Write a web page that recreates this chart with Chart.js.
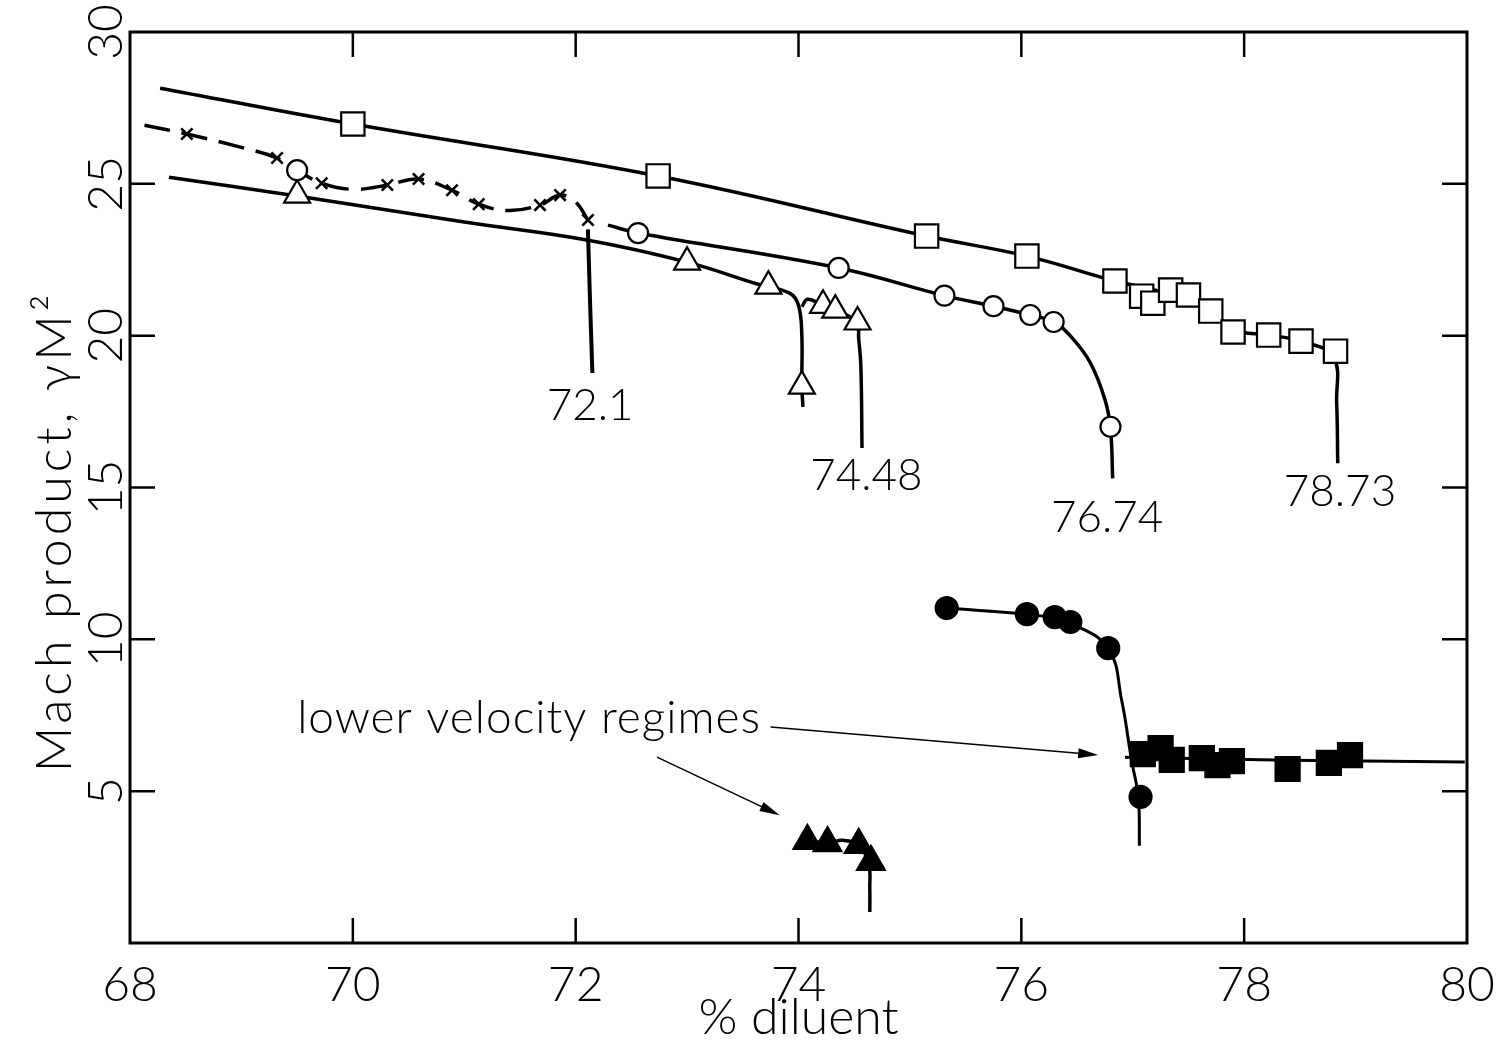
<!DOCTYPE html>
<html>
<head>
<meta charset="utf-8">
<script src="https://cdn.jsdelivr.net/npm/chart.js@4.4.1/dist/chart.umd.min.js"></script>
<style>
  html, body { margin: 0; padding: 0; background: #fff; }
  #wrap { width: 1510px; height: 1043px; }
</style>
</head>
<body>
<div id="wrap"><canvas id="machChart"></canvas></div>
<script>
// axis ticks
const xTicks = [68, 70, 72, 74, 76, 78, 80];
const yTicks = [0, 5, 10, 15, 20, 25, 30];

// 78.73 series (open squares)
const sqX = [70.00, 72.74, 75.15, 76.05, 76.84, 77.08, 77.18, 77.34, 77.50, 77.70, 77.90, 78.22, 78.51, 78.82];
const sqY = [26.97, 25.26, 23.28, 22.62, 21.80, 21.30, 21.07, 21.50, 21.34, 20.81, 20.12, 20.02, 19.82, 19.49];
const sqLineX = [68.27, 70.00, 72.74, 75.15, 76.05, 76.84, 77.30, 77.70, 77.90, 78.22, 78.51, 78.80, 78.83, 78.84];
const sqLineY = [28.15, 26.97, 25.26, 23.28, 22.62, 21.80, 21.40, 20.85, 20.20, 20.02, 19.82, 19.30, 17.80, 15.80];

// 76.74 series (open circles)
const circX = [69.50, 72.56, 74.36, 75.31, 75.75, 76.08, 76.29, 76.80];
const circY = [25.45, 23.38, 22.23, 21.32, 20.97, 20.68, 20.45, 17.00];
const circLineX = [72.29, 72.56, 74.36, 75.31, 75.75, 76.08, 76.29, 76.45, 76.62, 76.75, 76.80, 76.82];
const circLineY = [23.64, 23.38, 22.23, 21.32, 20.97, 20.68, 20.45, 19.95, 19.10, 17.90, 16.95, 15.30];

// 74.48 series (open triangles)
const triX = [69.50, 73.00, 73.73, 74.03, 74.22, 74.33, 74.53];
const triY = [24.63, 22.42, 21.63, 18.34, 21.00, 20.84, 20.45];
const triLineAX = [68.35, 69.50, 71.00, 72.10, 73.00, 73.63, 73.92, 74.00, 74.03, 74.03, 74.04];
const triLineAY = [25.22, 24.60, 23.74, 23.15, 22.42, 21.70, 21.40, 21.00, 20.00, 18.34, 17.65];
const triLineBX = [74.03, 74.08, 74.22, 74.33, 74.52, 74.54, 74.56, 74.57];
const triLineBY = [20.95, 21.20, 21.00, 20.84, 20.45, 19.90, 18.97, 16.30];

// 72.1 series (crosses, dashed)
const crossX = [68.51, 69.32, 69.72, 70.31, 70.59, 70.89, 71.13, 71.68, 71.86, 72.11];
const crossY = [26.64, 25.85, 25.02, 24.96, 25.16, 24.79, 24.33, 24.30, 24.63, 23.81];
const crossLineX = [68.13, 68.51, 69.00, 69.32, 69.50, 69.72, 70.00, 70.31, 70.59, 70.89, 71.13, 71.40, 71.68, 71.86, 72.00, 72.11];
const crossLineY = [26.93, 26.64, 26.20, 25.85, 25.45, 25.02, 24.82, 24.96, 25.16, 24.79, 24.33, 24.12, 24.30, 24.63, 24.40, 23.81];
const dropX = [72.11, 72.13, 72.15];
const dropY = [23.50, 21.00, 18.77];

// lower velocity regimes
const fcX = [75.33, 76.05, 76.30, 76.44, 76.78, 77.07];
const fcY = [11.03, 10.83, 10.73, 10.57, 9.71, 4.81];
const fcLineX = [75.33, 76.05, 76.30, 76.44, 76.78, 76.90, 76.99, 77.05, 77.06];
const fcLineY = [11.03, 10.83, 10.70, 10.55, 9.71, 8.00, 6.00, 4.80, 3.20];

const fsX = [77.09, 77.25, 77.35, 77.62, 77.76, 77.89, 78.39, 78.76, 78.95];
const fsY = [6.22, 6.42, 6.03, 6.09, 5.86, 5.99, 5.73, 5.93, 6.19];
const fsLineX = [76.93, 78.40, 79.98];
const fsLineY = [6.12, 6.02, 5.96];

const ftX = [74.08, 74.26, 74.54, 74.65];
const ftY = [3.36, 3.29, 3.23, 2.67];
const ftLineX = [74.08, 74.26, 74.40, 74.54, 74.63, 74.64, 74.64];
const ftLineY = [3.36, 3.30, 3.38, 3.23, 2.60, 1.80, 1.02];

// text and arrows, in data units
const notes = [
  { text: '72.1', x: 72.13, y: 17.7 },
  { text: '74.48', x: 74.61, y: 15.4 },
  { text: '76.74', x: 76.77, y: 14.0 },
  { text: '78.73', x: 78.86, y: 14.85 },
];
const regimeText = { text: 'lower velocity regimes', x: 69.5, y: 7.4 };
const arrows = [
  { from: [72.73, 6.12], to: [73.83, 4.21] },
  { from: [73.75, 7.11], to: [76.69, 6.19] },
];
const yTitle = 'Mach product, \u03B3M\u00B2';

const FONT = 'Lato, "DejaVu Sans", sans-serif';
const TICK = 25;
const pts = (xs, ys) => xs.map((v, i) => ({ x: v, y: ys[i] }));

function markers(xs, ys, style, r, filled, bw) {
  return {
    data: pts(xs, ys), showLine: false, order: 0,
    pointStyle: style, pointRadius: r,
    pointBackgroundColor: filled ? '#000' : '#fff',
    pointBorderColor: '#000', pointBorderWidth: bw || 2.2
  };
}
function curve(xs, ys, width, extra) {
  return Object.assign({
    data: pts(xs, ys), showLine: true, order: 1,
    pointRadius: 0, borderColor: '#000', borderWidth: width,
    tension: 0.4, fill: false
  }, extra || {});
}

const framePlugin = {
  id: 'frame',
  afterDraw(chart) {
    const { ctx, chartArea: a, scales: { x, y } } = chart;
    ctx.save();
    ctx.strokeStyle = '#000';
    ctx.lineWidth = 3;
    ctx.strokeRect(a.left, a.top, a.right - a.left, a.bottom - a.top);
    ctx.lineWidth = 2.5;
    ctx.beginPath();
    xTicks.slice(1, -1).forEach(v => {
      const px = x.getPixelForValue(v);
      ctx.moveTo(px, a.bottom); ctx.lineTo(px, a.bottom - TICK);
      ctx.moveTo(px, a.top); ctx.lineTo(px, a.top + TICK);
    });
    yTicks.slice(1, -1).forEach(v => {
      const py = y.getPixelForValue(v);
      ctx.moveTo(a.left, py); ctx.lineTo(a.left + TICK, py);
      ctx.moveTo(a.right, py); ctx.lineTo(a.right - TICK, py);
    });
    ctx.stroke();

    // callout labels
    ctx.fillStyle = '#000';
    ctx.font = '300 44px ' + FONT;
    ctx.textAlign = 'center';
    ctx.textBaseline = 'middle';
    notes.forEach(n => ctx.fillText(n.text, x.getPixelForValue(n.x), y.getPixelForValue(n.y)));
    ctx.textAlign = 'left';
    ctx.font = '300 46px ' + FONT;
    ctx.letterSpacing = '1px';
    ctx.fillText(regimeText.text, x.getPixelForValue(regimeText.x), y.getPixelForValue(regimeText.y));

    // y axis title, rotated
    ctx.save();
    ctx.translate(55, (a.top + a.bottom) / 2 + 44);
    ctx.rotate(-Math.PI / 2);
    ctx.textAlign = 'center';
    ctx.font = '300 50px ' + FONT;
    ctx.letterSpacing = '4px';
    ctx.fillText(yTitle, 0, 0);
    ctx.restore();
    ctx.letterSpacing = '0px';

    // arrows
    ctx.lineWidth = 1.5;
    arrows.forEach(ar => {
      const x0 = x.getPixelForValue(ar.from[0]), y0 = y.getPixelForValue(ar.from[1]);
      const x1 = x.getPixelForValue(ar.to[0]), y1 = y.getPixelForValue(ar.to[1]);
      const ang = Math.atan2(y1 - y0, x1 - x0);
      ctx.beginPath();
      ctx.moveTo(x0, y0); ctx.lineTo(x1 - 14 * Math.cos(ang), y1 - 14 * Math.sin(ang));
      ctx.stroke();
      ctx.beginPath();
      ctx.moveTo(x1, y1);
      ctx.lineTo(x1 - 20 * Math.cos(ang) + 5 * Math.sin(ang), y1 - 20 * Math.sin(ang) - 5 * Math.cos(ang));
      ctx.lineTo(x1 - 20 * Math.cos(ang) - 5 * Math.sin(ang), y1 - 20 * Math.sin(ang) + 5 * Math.cos(ang));
      ctx.closePath();
      ctx.fill();
    });
    ctx.restore();
  }
};

Chart.defaults.font.family = FONT;
Chart.defaults.font.weight = 300;
Chart.defaults.color = '#000';

new Chart(document.getElementById('machChart').getContext('2d'), {
  type: 'scatter',
  data: {
    datasets: [
      markers(sqX, sqY, 'rect', 16.5, false),
      markers(circX, circY, 'circle', 10, false),
      markers(triX, triY, 'triangle', 15, false),
      markers(crossX, crossY, 'crossRot', 8, false, 2.6),
      markers(fcX, fcY, 'circle', 11, true),
      markers(fsX, fsY, 'rect', 17, true),
      markers(ftX, ftY, 'triangle', 16, true),
      curve(sqLineX, sqLineY, 3.5),
      curve(circLineX, circLineY, 3.5),
      curve(triLineAX, triLineAY, 3.5),
      curve(triLineBX, triLineBY, 3.5),
      curve(crossLineX, crossLineY, 3.5, { borderDash: [26, 12] }),
      curve(dropX, dropY, 4, { tension: 0 }),
      curve(fcLineX, fcLineY, 3),
      curve(fsLineX, fsLineY, 3, { tension: 0 }),
      curve(ftLineX, ftLineY, 3.5)
    ]
  },
  options: {
    responsive: true,
    maintainAspectRatio: false,
    animation: false,
    devicePixelRatio: 1,
    events: [],
    layout: { padding: { top: 32, right: 43, left: 0, bottom: 0 } },
    plugins: { legend: { display: false }, tooltip: { enabled: false } },
    scales: {
      x: {
        type: 'linear', min: 68, max: 80,
        afterBuildTicks: s => { s.ticks = xTicks.map(v => ({ value: v })); },
        afterFit: s => { s.height = 100; },
        ticks: { font: { size: 48 }, padding: 14, maxRotation: 0 },
        grid: { display: false, drawTicks: false },
        border: { display: false },
        title: { display: true, text: '% diluent', font: { size: 50, lineHeight: 1 }, padding: { top: 0, bottom: 0 } }
      },
      y: {
        type: 'linear', min: 0, max: 30,
        afterBuildTicks: s => { s.ticks = yTicks.map(v => ({ value: v })); },
        afterFit: s => { s.width = 130; },
        ticks: {
          font: { size: 48 }, padding: -4, minRotation: 90, maxRotation: 90, crossAlign: 'center',
          callback: v => (v === 0 ? '' : v)
        },
        grid: { display: false, drawTicks: false },
        border: { display: false },
        title: { display: false }
      }
    }
  },
  plugins: [framePlugin]
});
</script>
</body>
</html>
